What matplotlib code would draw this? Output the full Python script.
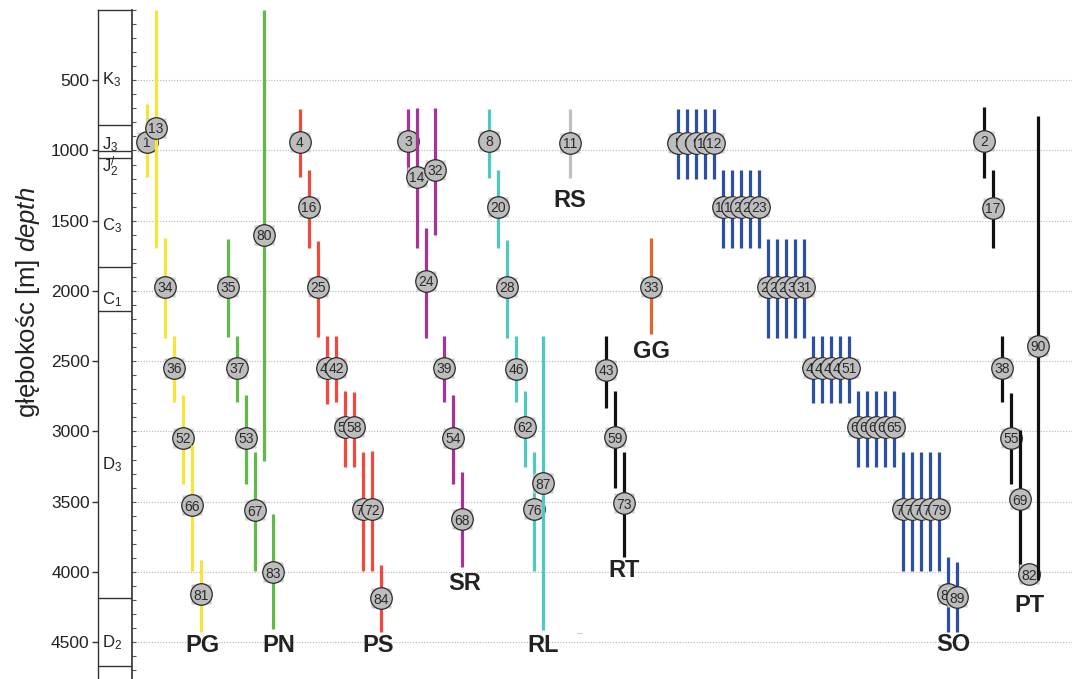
import matplotlib
matplotlib.use("Agg")
import matplotlib.pyplot as plt
from matplotlib.ticker import MultipleLocator

plt.rcParams['font.family'] = ['Liberation Sans', 'DejaVu Sans']
plt.rcParams['mathtext.fontset'] = 'custom'
plt.rcParams['mathtext.rm'] = 'Liberation Sans'
plt.rcParams['mathtext.it'] = 'Liberation Sans:italic'

# --- data: sample numbers, depth of sample [m], depth range (top, base) [m] ---
pg_no = [1, 13, 34, 36, 52, 66, 81]
pg_depth = [938, 838, 1971, 2548, 3046, 3524, 4157]
pg_top = [667, 0, 1622, 2320, 2740, 3096, 3915]
pg_base = [1187, 1693, 2334, 2790, 3374, 3994, 4428]

pn_no = [35, 37, 53, 67, 80, 83]
pn_depth = [1971, 2548, 3046, 3560, 1600, 4001]
pn_top = [1629, 2320, 2740, 3146, 0, 3589]
pn_base = [2326, 2790, 3374, 3994, 3210, 4407]

ps_no = [4, 16, 25, 41, 42, 57, 58, 71, 72, 84]
ps_depth = [938, 1401, 1971, 2548, 2548, 2968, 2968, 3552, 3552, 4186]
ps_top = [703, 1137, 1643, 2320, 2320, 2711, 2718, 3146, 3140, 3950]
ps_base = [1187, 1693, 2326, 2804, 2790, 3253, 3253, 3994, 3994, 4428]

sr_no = [3, 14, 24, 32, 39, 54, 68]
sr_depth = [931, 1187, 1928, 1137, 2548, 3046, 3624]
sr_top = [703, 696, 1551, 696, 2320, 2740, 3288]
sr_base = [1194, 1693, 2334, 1600, 2790, 3374, 3965]

rl_no = [8, 20, 28, 46, 62, 76, 87]
rl_depth = [931, 1401, 1971, 2555, 2968, 3552, 3367]
rl_top = [703, 1137, 1636, 2320, 2711, 3146, 2320]
rl_base = [1194, 1693, 2334, 2790, 3253, 3994, 4414]

rs_no = [11]
rs_depth = [945]
rs_top = [703]
rs_base = [1194]

rt_no = [43, 59, 73]
rt_depth = [2561, 3040, 3510]
rt_top = [2320, 2711, 3146]
rt_base = [2832, 3402, 3894]

gg_no = [33]
gg_depth = [1971]
gg_top = [1622]
gg_base = [2306]

so_no = [5, 6, 9, 10, 12, 18, 19, 21, 22, 23, 26, 27, 29, 30, 31, 44, 45,
         47, 48, 51, 60, 61, 63, 64, 65, 70, 74, 75, 77, 79, 88, 89]
so_depth = [945, 945, 945, 945, 945, 1401, 1401, 1401, 1401, 1401,
            1971, 1971, 1971, 1971, 1971, 2548, 2548, 2548, 2548, 2548,
            2968, 2968, 2968, 2968, 2968, 3552, 3552, 3552, 3552, 3552,
            4157, 4179]
so_top = [703, 703, 703, 703, 703, 1137, 1137, 1137, 1137, 1137,
          1629, 1629, 1629, 1629, 1629, 2320, 2320, 2320, 2320, 2320,
          2711, 2711, 2711, 2711, 2711, 3146, 3146, 3146, 3146, 3146,
          3894, 3929]
so_base = [1200, 1200, 1200, 1200, 1200, 1693, 1693, 1693, 1693, 1693,
           2334, 2334, 2334, 2334, 2334, 2797, 2797, 2797, 2797, 2797,
           3253, 3253, 3253, 3253, 3253, 3994, 3994, 3994, 3994, 3994,
           4428, 4428]

pt_no = [2, 17, 38, 55, 69, 82, 90]
pt_depth = [931, 1408, 2548, 3046, 3481, 4016, 2391]
pt_top = [689, 1137, 2320, 2729, 2990, 3986, 753]
pt_base = [1194, 1693, 2790, 3374, 4036, 4036, 4058]

# stratigraphic column: boundaries [m] and unit names
strat_bounds = [821, 1007, 1050, 1829, 2143, 4186, 4671]
strat_names = [r'$\mathregular{K_3}$', r'$\mathregular{J_3}$', r'$\mathregular{J_2^{/}}$',
               r'$\mathregular{C_3}$', r'$\mathregular{C_1}$', r'$\mathregular{D_3}$',
               r'$\mathregular{D_2}$']
strat_label_depth = [497, 960, 1117, 1537, 2063, 3239, 4500]

depth_ticks = [500, 1000, 1500, 2000, 2500, 3000, 3500, 4000, 4500]

# --- styles / layout ---
groups = [
    # name, numbers, depth, top, base, colour, gap before, label (dx, depth)
    ("PG", pg_no, pg_depth, pg_top, pg_base, '#f7e43a', 0, (0.2, 4570)),
    ("PN", pn_no, pn_depth, pn_top, pn_base, '#5dbb46', 2, (0.6, 4570)),
    ("PS", ps_no, ps_depth, ps_top, ps_base, '#f2483e', 2, (-0.3, 4570)),
    ("SR", sr_no, sr_depth, sr_top, sr_base, '#a83296', 2, (0.3, 4129)),
    ("RL", rl_no, rl_depth, rl_top, rl_base, '#4ec9c2', 2, (0.0, 4570)),
    ("RS", rs_no, rs_depth, rs_top, rs_base, '#c0c0c0', 2, (0.0, 1401)),
    ("RT", rt_no, rt_depth, rt_top, rt_base, '#111111', 3, (0.0, 4036)),
    ("GG", gg_no, gg_depth, gg_top, gg_base, '#e0642c', 2, (0.0, 2476)),
    ("SO", so_no, so_depth, so_top, so_base, '#2b4ea6', 2, (-0.4, 4565)),
    ("PT", pt_no, pt_depth, pt_top, pt_base, '#111111', 2, (-0.9, 4286)),
]

W, H = 1072, 679
fig = plt.figure(figsize=(W / 100, H / 100), dpi=100)

y_top, y_bot = 10, 690          # pixel rows of axes top / bottom
ax_s = fig.add_axes([98 / W, (H - y_bot) / H, 34 / W, (y_bot - y_top) / H])
ax = fig.add_axes([132 / W, (H - y_bot) / H, (1080 - 132) / W, (y_bot - y_top) / H])

ylim = (4840, 0)

# stratigraphic column
ax_s.set_ylim(*ylim)
ax_s.set_xlim(0, 1)
for b in strat_bounds:
    ax_s.axhline(b, color='#333333', lw=1.0)
for name, d in zip(strat_names, strat_label_depth):
    ax_s.text(0.13, d, name, ha='left', va='center', fontsize=12, color='#222222')
ax_s.set_xticks([])
ax_s.set_yticks(depth_ticks)
ax_s.tick_params(axis='y', labelsize=12.5, labelcolor='#222222', length=4,
                 width=1, color='#333333', pad=2)
for sp in ax_s.spines.values():
    sp.set_color('#333333')
    sp.set_linewidth(1.0)

fig.text(28 / W, 1 - 302 / H, r'głębokośc [m] $\mathit{depth}$', rotation=90,
         ha='center', va='center', fontsize=18.5, color='#222222')

# main panel
ax.set_ylim(*ylim)
slot_px = 9.0
ax.set_xlim(-15 / slot_px, (1080 - 147) / slot_px)
for sp in ['top', 'right', 'bottom']:
    ax.spines[sp].set_visible(False)
ax.spines['left'].set_color('#333333')
ax.spines['left'].set_linewidth(1.2)
ax.set_xticks([])
ax.yaxis.set_major_locator(MultipleLocator(100))
ax.tick_params(axis='y', direction='in', length=3, width=0.8, color='#555555',
               labelleft=False)
for g in depth_ticks:
    ax.axhline(g, color='#b5b5b5', lw=0.8, ls=(0, (1, 1.5)), zorder=0)

slot = 0
z = 2
for name, nos, depth, top, base, col, gap, (ldx, ldepth) in groups:
    slot += gap
    for k in range(len(nos)):
        x = slot + k
        ax.plot([x, x], [top[k], base[k]], color=col, lw=2.3,
                solid_capstyle='butt', zorder=z)
        ax.plot(x, depth[k], marker='s', ms=14.5, mfc='#cccccc', mec='none', zorder=z + 1)
        ax.plot(x, depth[k], marker='o', ms=15.5, mfc='#bdbdbd', mec='#2a2a2a',
                mew=0.9, zorder=z + 2)
        ax.text(x, depth[k], str(nos[k]), ha='center', va='center_baseline',
                fontsize=10, color='#2a2a2a', zorder=z + 3)
        z += 4
    last = slot + len(nos) - 1
    ax.text(last + ldx, ldepth, name, ha='center', va='baseline', fontsize=17,
            fontweight='bold', color='#222222', zorder=z)
    slot = last + 1

# small grey speck next to the RL label
ax.text(48.1, 4435, '–', ha='center', va='center', fontsize=7, color='#bbbbbb')

fig.savefig('out.png', dpi=100)
